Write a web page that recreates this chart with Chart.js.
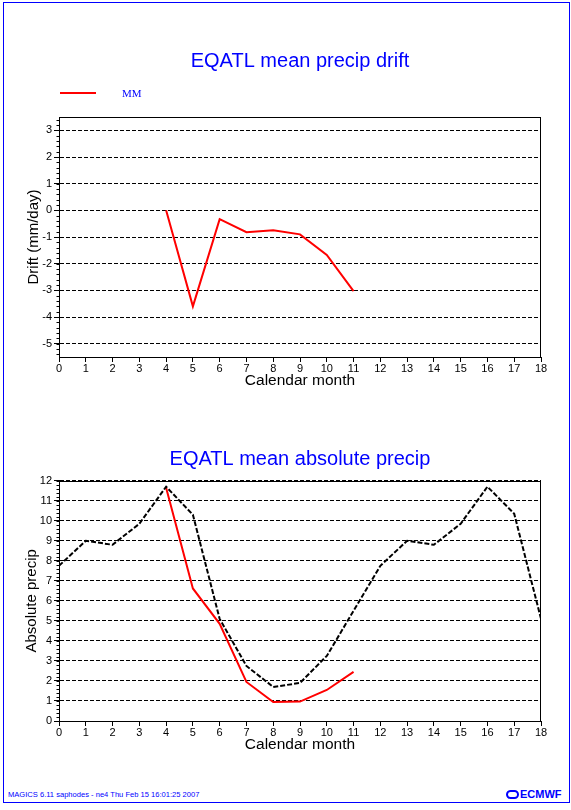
<!DOCTYPE html>
<html>
<head>
<meta charset="utf-8">
<script src="https://cdn.jsdelivr.net/npm/chart.js@4/dist/chart.umd.min.js"></script>
<style>
html,body{margin:0;padding:0;background:#fff;width:571px;height:810px;overflow:hidden;position:relative;font-family:"Liberation Sans",Arial,sans-serif}
#frame{position:absolute;left:3px;top:2px;width:567px;height:801px;box-sizing:border-box;border:1px solid #0000ff;pointer-events:none}
canvas{position:absolute;left:0}
#c1{top:0}
#c2{top:400px}
#legLine{position:absolute;left:60px;top:92px;width:36px;height:2px;background:#ff0000}
#legText{position:absolute;left:122px;top:87px;font:11px "Liberation Serif","Times New Roman",serif;color:#0000ff}
#footer{position:absolute;left:8px;top:790px;font:8px "Liberation Sans",Arial,sans-serif;color:#0000ff;white-space:nowrap;transform:scaleX(0.945);transform-origin:left center}
#logo{position:absolute;left:506px;top:788px;color:#0000ff;font:bold 11px "Liberation Sans",Arial,sans-serif;white-space:nowrap;display:flex;align-items:center}
#logo .ring{display:inline-block;width:9px;height:5px;border:2px solid #0000ff;border-radius:5px;margin-right:1px}
</style>
</head>
<body>
<canvas id="c1" width="571" height="400"></canvas>
<canvas id="c2" width="571" height="364"></canvas>
<div id="legLine"></div>
<div id="legText">MM</div>
<div id="footer">MAGICS 6.11 saphodes - ne4 Thu Feb 15 16:01:25 2007</div>
<div id="logo"><span class="ring"></span>ECMWF</div>
<div id="frame"></div>
<script>
// ---- data ----
const months = [0,1,2,3,4,5,6,7,8,9,10,11,12,13,14,15,16,17,18];
const mmMonths = [4,5,6,7,8,9,10,11];
const driftMM = [0, -3.6, -0.33, -0.82, -0.75, -0.9, -1.67, -3.03];
const absRef = [7.75, 9.0, 8.8, 9.85, 11.7, 10.3, 5.1, 2.75, 1.7, 1.9, 3.25, 5.5, 7.75, 9.0, 8.8, 9.85, 11.7, 10.35, 5.1];
const absMM = [11.65, 6.62, 4.85, 1.95, 0.95, 0.97, 1.55, 2.45];
const driftTicks = [-5, -4, -3, -2, -1, 0, 1, 2, 3];
const absTicks = [0, 1, 2, 3, 4, 5, 6, 7, 8, 9, 10, 11, 12];

const pts = (xs, ys) => xs.map((x, i) => ({x: x, y: ys[i]}));

const BLUE = '#0000ff';
const FONT = '"Liberation Sans", Arial, sans-serif';

const frameMinor = {
  id: 'frameMinor',
  afterDraw(chart) {
    const {ctx, chartArea: a, scales: {y}} = chart;
    ctx.save();
    ctx.strokeStyle = '#000';
    ctx.lineWidth = 1;
    ctx.setLineDash([]);
    ctx.beginPath();
    const n0 = Math.ceil(y.min * 5 - 1e-9), n1 = Math.floor(y.max * 5 + 1e-9);
    for (let n = n0; n <= n1; n++) {
      const py = Math.round(y.getPixelForValue(n / 5)) + 0.5;
      ctx.moveTo(a.left - 2.5, py);
      ctx.lineTo(a.left, py);
    }
    ctx.stroke();
    ctx.strokeRect(Math.round(a.left) + 0.5, Math.round(a.top) + 0.5,
                   Math.round(a.right - a.left) - 1, Math.round(a.bottom - a.top));
    ctx.restore();
  }
};

function makeChart(id, datasets, cfg) {
  return new Chart(document.getElementById(id), {
    type: 'line',
    data: {datasets: datasets},
    plugins: [frameMinor],
    options: {
      responsive: false,
      animation: false,
      events: [],
      layout: {padding: {left: 0, right: 30, top: 0, bottom: 0}},
      plugins: {
        legend: {display: false},
        tooltip: {enabled: false},
        title: {
          display: true,
          fullSize: false,
          text: cfg.title,
          color: BLUE,
          font: {family: FONT, size: 20, weight: 'normal', lineHeight: 1.2},
          padding: cfg.titlePad
        }
      },
      elements: {point: {radius: 0}, line: {tension: 0}},
      scales: {
        x: {
          type: 'linear',
          min: 0, max: 18,
          afterFit: s => { s.height = 43; },
          ticks: {stepSize: 1, color: '#000', padding: 0, maxRotation: 0, autoSkip: false,
                  font: {family: FONT, size: 11}},
          grid: {drawOnChartArea: false, drawTicks: true, tickLength: 5, tickColor: '#000'},
          border: {color: '#000', width: 1},
          title: {display: true, text: 'Calendar month', color: '#000',
                  font: {family: FONT, size: 15.5}, padding: {top: 0, bottom: 10}}
        },
        y: {
          type: 'linear',
          min: cfg.ymin, max: cfg.ymax,
          afterFit: s => { s.width = 59; },
          afterBuildTicks: s => { s.ticks = cfg.yticks.map(v => ({value: v})); },
          ticks: {color: '#000', padding: 2, autoSkip: false, font: {family: FONT, size: 11}},
          grid: {color: '#000', lineWidth: 1, tickLength: 5, tickColor: '#000'},
          border: {color: '#000', width: 1, dash: [4, 2]},
          title: {display: true, text: cfg.ytitle, color: '#000',
                  font: {family: FONT, size: 15}, padding: {top: cfg.ytitleTop, bottom: 0}}
        }
      }
    }
  });
}

makeChart('c1', [
  {label: 'MM', data: pts(mmMonths, driftMM), borderColor: '#ff0000', borderWidth: 2, fill: false}
], {title: 'EQATL mean precip drift', titlePad: {top: 49, bottom: 44},
    ymin: -5.5, ymax: 3.5, yticks: driftTicks, ytitle: 'Drift (mm/day)', ytitleTop: 25});

makeChart('c2', [
  {label: 'Reference', data: pts(months, absRef), borderColor: '#000', borderWidth: 2, borderDash: [5, 2], fill: false},
  {label: 'MM', data: pts(mmMonths, absMM), borderColor: '#ff0000', borderWidth: 2, fill: false}
], {title: 'EQATL mean absolute precip', titlePad: {top: 47, bottom: 9.7},
    ymin: 0, ymax: 12, yticks: absTicks, ytitle: 'Absolute precip', ytitleTop: 23});
</script>
</body>
</html>
